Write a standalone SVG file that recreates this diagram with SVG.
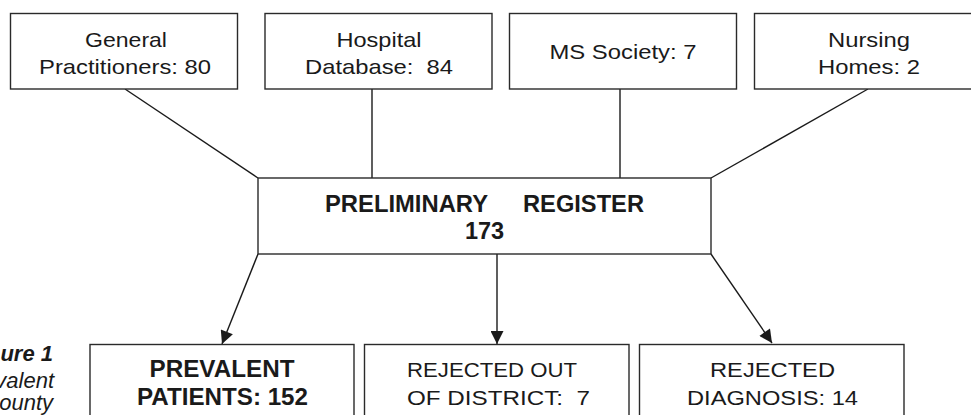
<svg xmlns="http://www.w3.org/2000/svg" width="971" height="415" viewBox="0 0 971 415">
<style>
.box{fill:#fff;stroke:#2a2a2a;stroke-width:1.4}
.t{font-family:"Liberation Sans",Arial,sans-serif;font-size:21px;fill:#1a1a1a;text-anchor:middle}
.b{font-family:"Liberation Sans",Arial,sans-serif;font-size:23.5px;font-weight:bold;fill:#1a1a1a;text-anchor:middle}
.cap{font-family:"Liberation Sans",Arial,sans-serif;font-size:22px;font-style:italic;fill:#1a1a1a;text-anchor:end}
.ln{stroke:#1a1a1a;stroke-width:1.4;fill:none}
</style>
<defs>
<marker id="ah" viewBox="0 0 10 10" refX="10" refY="5" markerWidth="16" markerHeight="13" markerUnits="userSpaceOnUse" orient="auto">
<path d="M0,0 L10,5 L0,10 Z" fill="#1a1a1a"/>
</marker>
</defs>
<rect width="971" height="415" fill="#fff"/>
<g id="connectors">
<line class="ln" x1="125" y1="89" x2="258" y2="178"/>
<line class="ln" x1="372" y1="89" x2="372" y2="178"/>
<line class="ln" x1="620" y1="89" x2="620" y2="178"/>
<line class="ln" x1="868" y1="89" x2="711" y2="178"/>
<line class="ln" x1="258" y1="254" x2="222" y2="344" marker-end="url(#ah)"/>
<line class="ln" x1="497" y1="254" x2="497" y2="344" marker-end="url(#ah)"/>
<line class="ln" x1="711" y1="254" x2="772" y2="343" marker-end="url(#ah)"/>
</g>
<g id="gp">
<rect class="box" x="10.5" y="13.5" width="227" height="75.5"/>
<text class="t" x="126" y="46.5" textLength="82" lengthAdjust="spacingAndGlyphs">General</text>
<text class="t" x="125" y="74" textLength="172" lengthAdjust="spacingAndGlyphs">Practitioners: 80</text>
</g>
<g id="hospital">
<rect class="box" x="265" y="13.5" width="227" height="75.5"/>
<text class="t" x="379" y="46.5" textLength="85" lengthAdjust="spacingAndGlyphs">Hospital</text>
<text class="t" x="379" y="74" textLength="148" lengthAdjust="spacingAndGlyphs" xml:space="preserve">Database:  84</text>
</g>
<g id="ms">
<rect class="box" x="509.5" y="13.5" width="227" height="75.5"/>
<text class="t" x="623" y="58.5" textLength="147" lengthAdjust="spacingAndGlyphs">MS Society: 7</text>
</g>
<g id="nursing">
<rect class="box" x="754.5" y="13.5" width="230" height="75.5"/>
<text class="t" x="869" y="46.5" textLength="82" lengthAdjust="spacingAndGlyphs">Nursing</text>
<text class="t" x="869" y="74" textLength="102" lengthAdjust="spacingAndGlyphs">Homes: 2</text>
</g>
<g id="register">
<rect class="box" x="258" y="178" width="453" height="76"/>
<text class="b" x="406.5" y="212" textLength="163" lengthAdjust="spacingAndGlyphs">PRELIMINARY</text>
<text class="b" x="583.5" y="212" textLength="121" lengthAdjust="spacingAndGlyphs">REGISTER</text>
<text class="b" x="484.5" y="239">173</text>
</g>
<g id="prevalent">
<rect class="box" x="90" y="344.5" width="264" height="80"/>
<text class="b" x="222" y="377" textLength="145" lengthAdjust="spacingAndGlyphs">PREVALENT</text>
<text class="b" x="222.5" y="405" textLength="171" lengthAdjust="spacingAndGlyphs">PATIENTS: 152</text>
</g>
<g id="district">
<rect class="box" x="364.5" y="344.5" width="264.5" height="80"/>
<text class="t" x="492" y="377" textLength="170" lengthAdjust="spacingAndGlyphs">REJECTED OUT</text>
<text class="t" x="498.5" y="405" textLength="183" lengthAdjust="spacingAndGlyphs" xml:space="preserve">OF DISTRICT:  7</text>
</g>
<g id="diagnosis">
<rect class="box" x="639.5" y="344.5" width="264.5" height="80"/>
<text class="t" x="772.5" y="377" textLength="125" lengthAdjust="spacingAndGlyphs">REJECTED</text>
<text class="t" x="772.5" y="405" textLength="171" lengthAdjust="spacingAndGlyphs">DIAGNOSIS: 14</text>
</g>
<g id="caption">
<text class="cap" x="53" y="361" font-weight="bold">ure 1</text>
<text class="cap" x="54" y="388">valent</text>
<text class="cap" x="53" y="410">ounty</text>
</g>
</svg>
